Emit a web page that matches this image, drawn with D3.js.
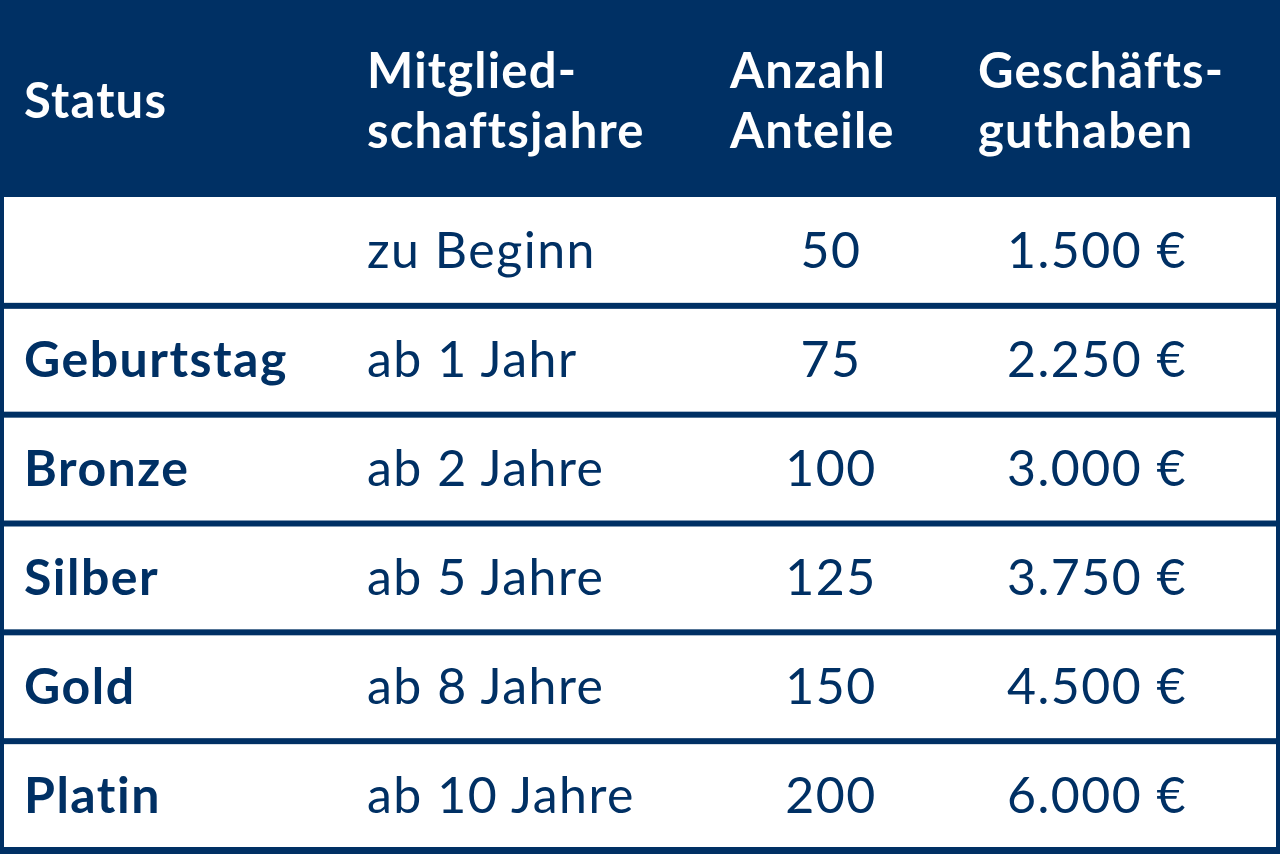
<!DOCTYPE html>
<html><head><meta charset="utf-8">
<script src="https://cdn.jsdelivr.net/npm/d3@7"></script>
<style>body{margin:0;background:#fff}</style>
</head><body>
<svg id="chart"></svg>
<script>
var headers = [["Status"], ["Mitglied-", "schaftsjahre"], ["Anzahl", "Anteile"], ["Geschäfts-", "guthaben"]];
var statusNames = ["", "Geburtstag", "Bronze", "Silber", "Gold", "Platin"];
var years = ["zu Beginn", "ab 1 Jahr", "ab 2 Jahre", "ab 5 Jahre", "ab 8 Jahre", "ab 10 Jahre"];
var shares = [50, 75, 100, 125, 150, 200];
var credit = ["1.500 €", "2.250 €", "3.000 €", "3.750 €", "4.500 €", "6.000 €"];

var W = 1280, H = 854, navy = "#003064", headH = 197;
var font = "Lato, 'Open Sans', sans-serif";
var svg = d3.select("#chart").attr("width", W).attr("height", H);

svg.append("rect").attr("width", W).attr("height", H).attr("fill", navy);

var y = d3.scaleBand().domain(d3.range(statusNames.length)).range([headH, H - 4]).paddingInner(0);
// white row cells, leaving navy lines between
svg.selectAll("rect.row").data(statusNames).enter().append("rect")
    .attr("x", 4).attr("width", W - 8)
    .attr("y", (d, i) => y(i) + (i == 0 ? 0 : 3))
    .attr("height", (d, i) => y.bandwidth() - (i == 0 ? 3 : 6))
    .attr("fill", "#fff");

// header
var colX = [24, 367, 730, 978];
headers.forEach(function(h, c) {
    var t = svg.append("text").attr("x", colX[c]).attr("fill", "#fff")
        .attr("font-family", font).attr("font-weight", "bold").attr("font-size", 49)
        .attr("letter-spacing", 1.2);
    var y0 = h.length == 1 ? 118 : 88;
    h.forEach(function(s, k) {
        t.append("tspan").attr("x", colX[c]).attr("y", y0 + k * 60).text(s);
    });
});

var mid = i => y(i) + y.bandwidth() / 2 + 17;
var g = svg.append("g").attr("font-family", font).attr("fill", navy)
    .attr("font-size", 50).attr("letter-spacing", 1.5);
g.selectAll("text.s").data(statusNames).enter().append("text")
    .attr("x", 24).attr("y", (d, i) => mid(i)).attr("font-weight", "bold").text(d => d);
g.selectAll("text.y").data(years).enter().append("text")
    .attr("x", 367).attr("y", (d, i) => mid(i)).text(d => d);
g.selectAll("text.a").data(shares).enter().append("text")
    .attr("x", 831).attr("y", (d, i) => mid(i)).attr("text-anchor", "middle").text(d => d);
g.selectAll("text.c").data(credit).enter().append("text")
    .attr("x", 1097).attr("y", (d, i) => mid(i)).attr("text-anchor", "middle").text(d => d);
</script>
</body></html>
